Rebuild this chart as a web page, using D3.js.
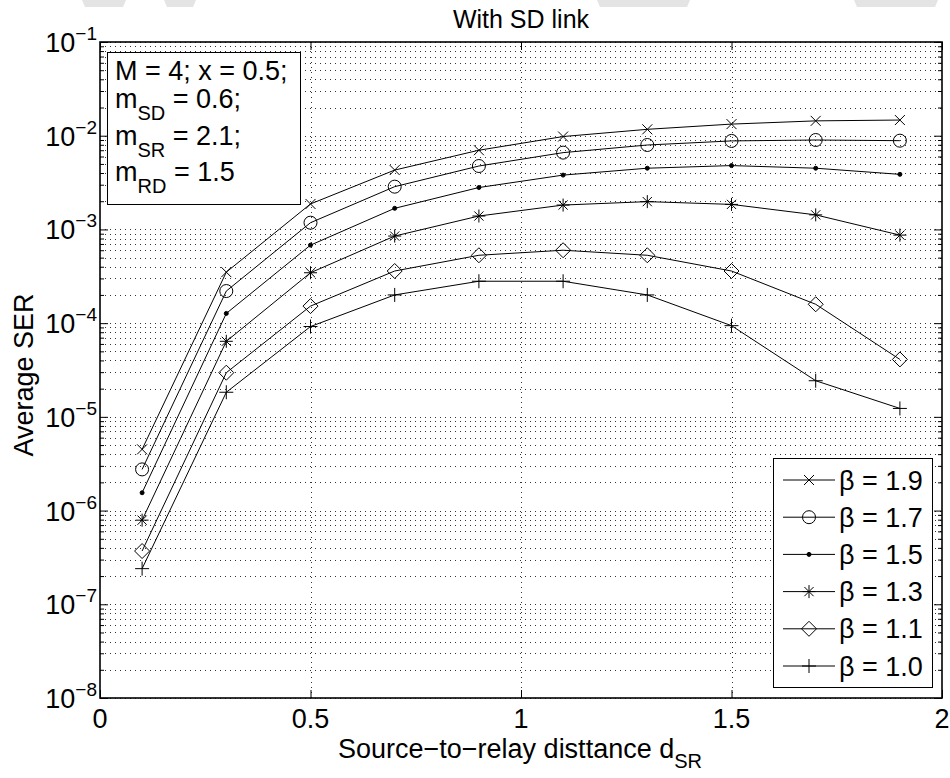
<!DOCTYPE html>
<html>
<head>
<meta charset="utf-8">
<script src="https://cdn.jsdelivr.net/npm/d3@7"></script>
<style>
  body { margin: 0; background: #fff; }
  svg { display: block; font-family: "Liberation Sans", Arial, sans-serif; }
</style>
</head>
<body>
<svg id="chart" width="950" height="778"></svg>
<script>
// source-to-relay distance d_SR
var dsr = [0.1, 0.3, 0.5, 0.7, 0.9, 1.1, 1.3, 1.5, 1.7, 1.9];

// average SER, one array per beta
var ser19 = [4.5e-6, 3.5e-4, 1.87e-3, 4.3e-3, 7.0e-3, 9.8e-3, 1.17e-2, 1.33e-2, 1.44e-2, 1.47e-2];
var ser17 = [2.75e-6, 2.2e-4, 1.18e-3, 2.86e-3, 4.75e-3, 6.6e-3, 7.96e-3, 8.8e-3, 9.0e-3, 8.85e-3];
var ser15 = [1.55e-6, 1.27e-4, 6.8e-4, 1.68e-3, 2.8e-3, 3.8e-3, 4.5e-3, 4.8e-3, 4.5e-3, 3.87e-3];
var ser13 = [7.9e-7, 6.4e-5, 3.45e-4, 8.5e-4, 1.39e-3, 1.82e-3, 1.98e-3, 1.85e-3, 1.43e-3, 8.7e-4];
var ser11 = [3.7e-7, 2.96e-5, 1.52e-4, 3.6e-4, 5.3e-4, 6.0e-4, 5.3e-4, 3.6e-4, 1.59e-4, 4.1e-5];
var ser10 = [2.4e-7, 1.83e-5, 9.2e-5, 2.0e-4, 2.8e-4, 2.8e-4, 2.0e-4, 9.4e-5, 2.43e-5, 1.23e-5];

var betaLabels = ["β = 1.9", "β = 1.7", "β = 1.5", "β = 1.3", "β = 1.1", "β = 1.0"];
var markerTypes = ["x", "o", "dot", "star", "diamond", "plus"];

var xTicks = [0, 0.5, 1, 1.5, 2];
var xTickLabels = ["0", "0.5", "1", "1.5", "2"];
var yTicks = [1e-8, 1e-7, 1e-6, 1e-5, 1e-4, 1e-3, 1e-2, 1e-1];
var yTickExp = ["−8", "−7", "−6", "−5", "−4", "−3", "−2", "−1"];

var series = [ser19, ser17, ser15, ser13, ser11, ser10];

var svg = d3.select("#chart");
var pLeft = 100, pRight = 942, pTop = 42, pBottom = 698;
var fs = 27;

var x = d3.scaleLinear().domain([0, 2]).range([pLeft, pRight]);
var y = d3.scaleLog().domain([1e-8, 1e-1]).range([pBottom, pTop]);

// minor log positions 2..9 in each decade
var yMinor = [];
yTicks.slice(0, -1).forEach(function(d) {
  for (var m = 2; m <= 9; m++) yMinor.push(d * m);
});

// faint grey band at the very top of the picture
var band = svg.append("g").attr("fill", "#e4e4e4");
[[85, 123], [167, 193], [600, 687], [857, 935]].forEach(function(b) {
  band.append("path").attr("d", "M" + (b[0] - 3) + ",0L" + (b[1] + 3) + ",0L" + b[1] + ",7L" + b[0] + ",7Z");
});

// grid
var grid = svg.append("g")
  .attr("stroke", "#000")
  .attr("stroke-width", 0.8)
  .attr("stroke-dasharray", "1,4");

grid.selectAll(".gy")
  .data(yTicks.concat(yMinor))
  .enter().append("line")
  .attr("x1", pLeft).attr("x2", pRight)
  .attr("y1", function(d) { return Math.round(y(d)) + 0.5; })
  .attr("y2", function(d) { return Math.round(y(d)) + 0.5; });

grid.selectAll(".gx")
  .data(xTicks.slice(1, -1))
  .enter().append("line")
  .attr("y1", pTop).attr("y2", pBottom)
  .attr("x1", function(d) { return Math.round(x(d)) + 0.5; })
  .attr("x2", function(d) { return Math.round(x(d)) + 0.5; });

// axes, ticks pointing inside
function styleAxis(g) {
  g.select(".domain").remove();
  g.selectAll("line").attr("stroke", "#000").attr("stroke-width", 1);
  g.selectAll("text").remove();
}

svg.append("g").attr("transform", "translate(0," + pBottom + ")")
  .call(d3.axisBottom(x).tickValues(xTicks).tickSize(-8)).call(styleAxis);
svg.append("g").attr("transform", "translate(0," + pTop + ")")
  .call(d3.axisTop(x).tickValues(xTicks).tickSize(-8)).call(styleAxis);
svg.append("g").attr("transform", "translate(" + pLeft + ",0)")
  .call(d3.axisLeft(y).tickValues(yTicks).tickSize(-8)).call(styleAxis);
svg.append("g").attr("transform", "translate(" + pLeft + ",0)")
  .call(d3.axisLeft(y).tickValues(yMinor).tickSize(-4)).call(styleAxis);
svg.append("g").attr("transform", "translate(" + pRight + ",0)")
  .call(d3.axisRight(y).tickValues(yTicks).tickSize(-8)).call(styleAxis);
svg.append("g").attr("transform", "translate(" + pRight + ",0)")
  .call(d3.axisRight(y).tickValues(yMinor).tickSize(-4)).call(styleAxis);

svg.append("rect")
  .attr("x", pLeft).attr("y", pTop)
  .attr("width", pRight - pLeft).attr("height", pBottom - pTop)
  .attr("fill", "none").attr("stroke", "#000").attr("stroke-width", 1.6);

// tick labels
svg.selectAll(".xl")
  .data(xTicks)
  .enter().append("text")
  .attr("x", function(d) { return x(d); })
  .attr("y", pBottom + 30)
  .attr("text-anchor", "middle")
  .attr("font-size", fs)
  .text(function(d, i) { return xTickLabels[i]; });

var yl = svg.selectAll(".yl")
  .data(yTicks)
  .enter().append("text")
  .attr("x", 97)
  .attr("y", function(d) { return y(d) + 10; })
  .attr("text-anchor", "end")
  .attr("font-size", fs);
yl.append("tspan").text("10");
yl.append("tspan")
  .attr("font-size", 19)
  .attr("dy", -12)
  .text(function(d, i) { return yTickExp[i]; });

// markers
function markerPath(type) {
  switch (type) {
    case "x": return "M-5,-5L5,5M-5,5L5,-5";
    case "o": return "M-6.5,0A6.5,6.5 0 1,0 6.5,0A6.5,6.5 0 1,0 -6.5,0Z";
    case "dot": return "M-2,0A2,2 0 1,0 2,0A2,2 0 1,0 -2,0Z";
    case "star": return "M-6.5,0L6.5,0M0,-6.5L0,6.5M-4.6,-4.6L4.6,4.6M-4.6,4.6L4.6,-4.6";
    case "diamond": return "M0,-7.5L7.5,0L0,7.5L-7.5,0Z";
    case "plus": return "M-7,0L7,0M0,-7L0,7";
  }
}

function drawMarker(g, type, cx, cy) {
  g.append("path")
    .attr("transform", "translate(" + cx + "," + cy + ")")
    .attr("d", markerPath(type))
    .attr("fill", type === "dot" ? "#000" : "none")
    .attr("stroke", "#000")
    .attr("stroke-width", 1);
}

var line = d3.line()
  .x(function(d, i) { return x(dsr[i]); })
  .y(function(d) { return y(d); });

series.forEach(function(s, k) {
  var g = svg.append("g");
  g.append("path")
    .attr("d", line(s))
    .attr("fill", "none")
    .attr("stroke", "#000")
    .attr("stroke-width", 1);
  s.forEach(function(v, i) {
    drawMarker(g, markerTypes[k], x(dsr[i]), y(v));
  });
});

// parameter box
svg.append("rect")
  .attr("x", 107.5).attr("y", 52.5)
  .attr("width", 193).attr("height", 152)
  .attr("fill", "#fff").attr("stroke", "#000").attr("stroke-width", 1);

var note = svg.append("g").attr("font-size", fs);
note.append("text").attr("x", 115).attr("y", 80).text("M = 4; x = 0.5;");
[["SD", " = 0.6;", 108], ["SR", " = 2.1;", 145], ["RD", " = 1.5", 181]].forEach(function(r) {
  var t = note.append("text").attr("x", 115).attr("y", r[2]);
  t.append("tspan").text("m");
  t.append("tspan").attr("font-size", 20).attr("dy", 12).text(r[0]);
  t.append("tspan").attr("dy", -12).text(r[1]);
});

// legend
svg.append("rect")
  .attr("x", 773.5).attr("y", 458.5)
  .attr("width", 159).attr("height", 229)
  .attr("fill", "#fff").attr("stroke", "#000").attr("stroke-width", 1);

betaLabels.forEach(function(lab, k) {
  var ly = 480 + k * 37.2;
  var g = svg.append("g");
  g.append("line")
    .attr("x1", 783).attr("x2", 835)
    .attr("y1", ly).attr("y2", ly)
    .attr("stroke", "#000").attr("stroke-width", 1);
  drawMarker(g, markerTypes[k], 809, ly);
  g.append("text")
    .attr("x", 839).attr("y", ly + 9.5)
    .attr("font-size", fs)
    .text(lab);
});

// titles
svg.append("text")
  .attr("x", (pLeft + pRight) / 2).attr("y", 28)
  .attr("text-anchor", "middle")
  .attr("font-size", 25)
  .text("With SD link");

var xlab = svg.append("text")
  .attr("x", 520).attr("y", 758)
  .attr("text-anchor", "middle")
  .attr("font-size", fs);
xlab.append("tspan").text("Source−to−relay disttance d");
xlab.append("tspan").attr("font-size", 20).attr("dy", 10).text("SR");

svg.append("text")
  .attr("transform", "translate(33,375) rotate(-90)")
  .attr("text-anchor", "middle")
  .attr("font-size", fs)
  .text("Average SER");
</script>
</body>
</html>
